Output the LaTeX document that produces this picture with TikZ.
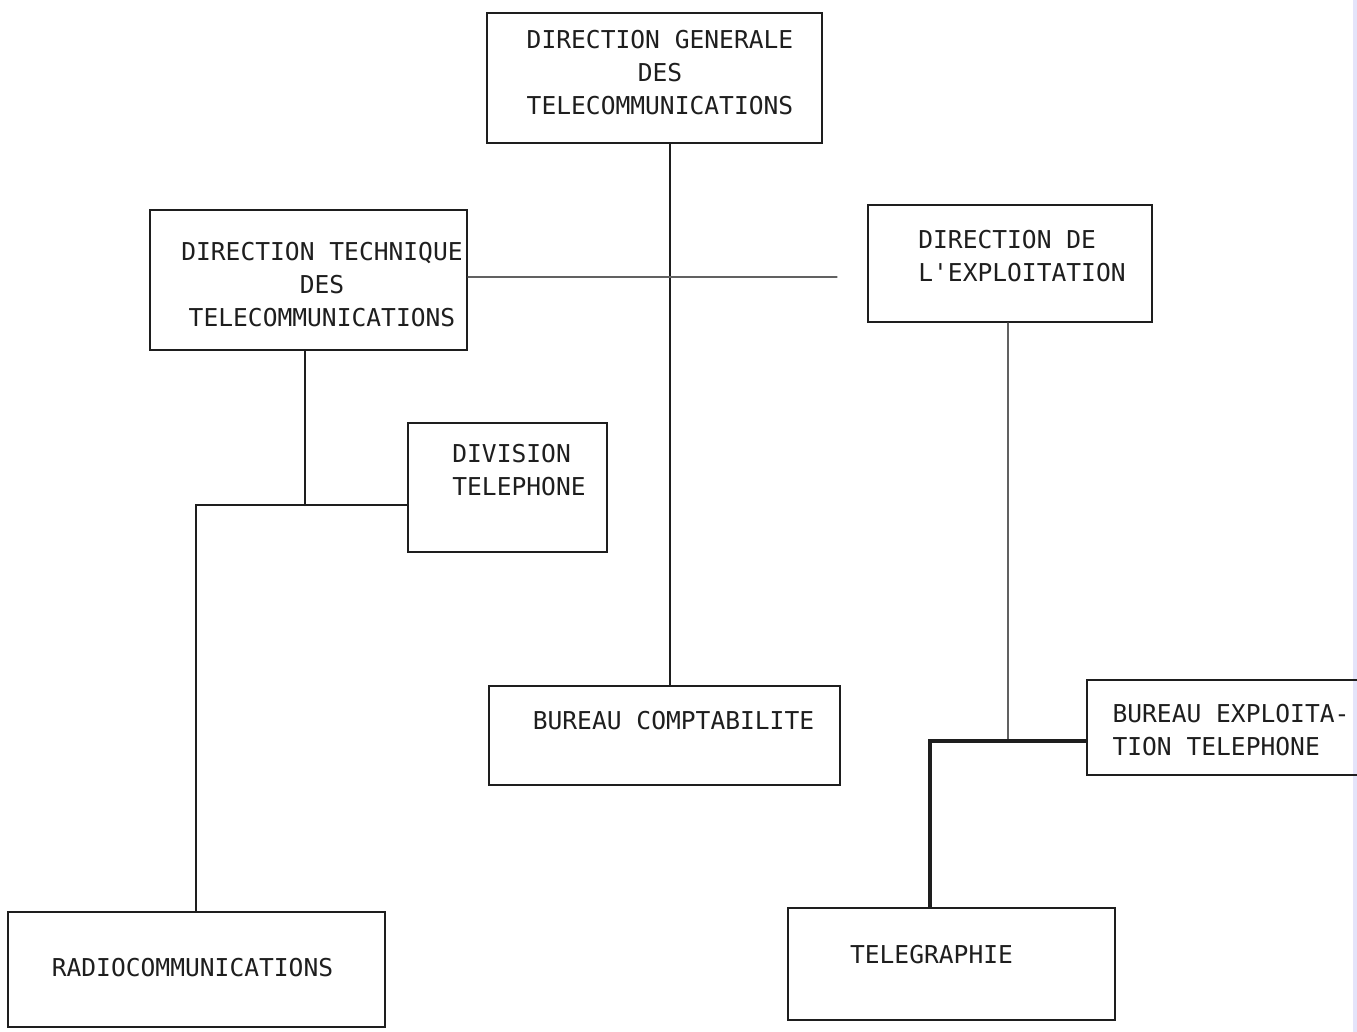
\documentclass[tikz,border=0pt]{standalone}
\usepackage{fontspec}
\newfontfamily\typewriter{DejaVu Sans Mono}
\usetikzlibrary{positioning}

\definecolor{ink}{RGB}{30,30,30}
\definecolor{edge}{RGB}{228,228,250}

\begin{document}
\begin{tikzpicture}[x=0.02cm, y=-0.02cm, line cap=round,
    unit/.style={draw=ink, line width=1.1pt, inner sep=0pt},
    txt/.style={font=\typewriter\fontsize{14}{18.8}\selectfont, text=ink, inner sep=0pt},
    trunk/.style={draw=ink, line width=1.2pt},
    link/.style={draw=ink!70, line width=0.6pt},
    heavy/.style={draw=ink, line width=1.8pt}
  ]

    \clip (0,0) rectangle (1357,1032);
    \fill [white] (0,0) rectangle (1357,1032);
    \fill [edge] (1353,0) rectangle (1357,1032);

    % boxes
    \node [unit, minimum width=6.7cm, minimum height=2.6cm,
           label={[txt, align=center, xshift=0.11cm, yshift=0.1cm]center:DIRECTION GENERALE\\DES\\TELECOMMUNICATIONS}]
          (dg) at (654.5,78) {};
    \node [unit, minimum width=6.34cm, minimum height=2.8cm,
           label={[txt, align=center, xshift=0.27cm, yshift=-0.1cm]center:DIRECTION TECHNIQUE\\DES\\TELECOMMUNICATIONS}]
          (dt) at (308.5,280) {};
    \node [unit, minimum width=5.68cm, minimum height=2.34cm,
           label={[txt, align=left, xshift=0.24cm, yshift=0.15cm]center:DIRECTION DE\\L'EXPLOITATION}]
          (de) at (1010,263.5) {};
    \node [unit, minimum width=3.98cm, minimum height=2.58cm,
           label={[txt, align=left, xshift=0.23cm, yshift=0.35cm]center:DIVISION\\TELEPHONE}]
          (div) at (507.5,487.5) {};
    \node [unit, minimum width=7.02cm, minimum height=1.98cm,
           label={[txt, xshift=0.18cm, yshift=0.29cm]center:BUREAU COMPTABILITE}]
          (bc) at (664.5,735.5) {};
    \node [unit, minimum width=6.06cm, minimum height=1.9cm,
           label={[txt, align=left, xshift=-0.15cm, yshift=-0.05cm]center:BUREAU EXPLOITA-\\TION TELEPHONE}]
          (bet) at (1238.5,727.5) {};
    \node [unit, minimum width=7.54cm, minimum height=2.3cm,
           label={[txt, xshift=-0.08cm, yshift=0.03cm]center:RADIOCOMMUNICATIONS}]
          (radio) at (196.5,969.5) {};
    \node [unit, minimum width=6.54cm, minimum height=2.24cm,
           label={[txt, xshift=-0.4cm, yshift=0.18cm]center:TELEGRAPHIE}]
          (tel) at (951.5,964) {};

    % junctions
    \coordinate (jt) at (305,505);
    \coordinate (je) at (1008,741);

    \draw [trunk] (dg.south -| 670,0) -- (bc.north -| 670,0);
    \draw [link, shorten >=0.6cm] (dt.east |- 0,277) -- (de.west |- 0,277);
    \draw [trunk] (dt.south -| jt) -- (jt);
    \draw [trunk] (div.west |- jt) -| (radio.north -| 196,0);
    \draw [link] (de.south -| je) -- (je);
    \draw [heavy] (bet.west |- je) -| (tel.north -| 930,0);

\end{tikzpicture}
\end{document}
